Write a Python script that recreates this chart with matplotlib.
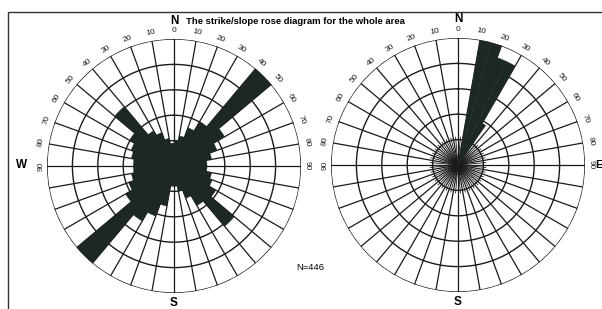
import numpy as np
import matplotlib
matplotlib.use("Agg")
import matplotlib.pyplot as plt
from matplotlib.patches import Rectangle

plt.rcParams['font.family'] = ['Liberation Sans', 'DejaVu Sans']

# ---------------- data ----------------
title = "The strike/slope rose diagram for the whole area"
n_label = "N=446"

# strike rose: 10-degree bins starting at 0 (bearing, clockwise from N)
strike_bins = list(range(0, 360, 10))
strike_len = [0.20, 0.24, 0.32, 0.40, 1.00, 0.46, 0.36, 0.30, 0.26,
              0.26, 0.30, 0.32, 0.38, 0.62, 0.36, 0.27, 0.20, 0.16,
              0.16, 0.32, 0.42, 0.50, 1.00, 0.44, 0.38, 0.34, 0.32,
              0.32, 0.34, 0.36, 0.40, 0.61, 0.32, 0.28, 0.22, 0.18]

# slope rose: 5-degree bins (start bearing, length)
slope_bins = [10, 15, 20, 25, 30]
slope_len = [1.00, 1.00, 0.90, 0.90, 0.38]

tick_labels = ["0", "10", "20", "30", "40", "50", "60", "70", "80", "90"]

# ---------------- figure ----------------
W, H = 602, 309
fig = plt.figure(figsize=(W / 100, H / 100), dpi=100)
fig.patch.set_facecolor("white")

# frame (left and top lines)
fig.add_artist(Rectangle((8 / W, -0.05), 1.2, (H - 12) / H + 0.05,
                         transform=fig.transFigure, fill=False,
                         lw=1.0, ec="#333333"))

BAR = "#1d2824"
GRID = "#1a1a1a"
R_PX = 127


def make_ax(cx, cy):
    ax = fig.add_axes([(cx - R_PX) / W, (H - cy - R_PX) / H,
                       2 * R_PX / W, 2 * R_PX / H], projection="polar")
    ax.set_theta_zero_location("N")
    ax.set_theta_direction(-1)
    ax.set_ylim(0, 1)
    ax.set_axis_off()
    return ax


def draw_grid(ax, fine_center=False):
    t = np.linspace(0, 2 * np.pi, 400)
    for r in [0.2, 0.4, 0.6, 0.8, 1.0]:
        ax.plot(t, np.full_like(t, r), color=GRID, lw=1.0, zorder=3)
    for a in range(0, 360, 10):
        ax.plot([np.radians(a)] * 2, [0, 1.0], color=GRID, lw=0.9, zorder=3)
    if fine_center:
        for a in range(5, 360, 10):
            ax.plot([np.radians(a)] * 2, [0, 0.22], color=GRID, lw=0.6, zorder=3)
    # tick labels
    for i, lab in enumerate(tick_labels):
        a = i * 10
        for side in ([1] if a == 0 else [1, -1]):
            b = side * a
            rr = 1.045 if a == 90 else 1.065
            ax.text(np.radians(b), rr, lab, fontsize=6, color="#222222",
                    rotation=-b, rotation_mode="anchor",
                    ha="center", va="center", clip_on=False, zorder=4)


# left: strike rose
axL = make_ax(174, 166)
draw_grid(axL)
axL.bar(np.radians(strike_bins), strike_len, width=np.radians(10),
        align="edge", color=BAR, edgecolor=BAR, lw=0.3, zorder=5)

# right: slope rose
axR = make_ax(458, 165)
draw_grid(axR, fine_center=True)
axR.bar(np.radians(slope_bins), slope_len, width=np.radians(5),
        align="edge", color=BAR, edgecolor=BAR, lw=0.3, zorder=5)

# compass letters
def ftxt(x, y, s, **kw):
    fig.text(x / W, 1 - y / H, s, ha="center", va="center", **kw)

ftxt(174, 21, "N", fontsize=8.5, fontweight="bold")
ftxt(458, 19, "N", fontsize=8.5, fontweight="bold")
ftxt(174, 303, "S", fontsize=8.5, fontweight="bold")
ftxt(458, 302, "S", fontsize=8.5, fontweight="bold")
ftxt(22, 165, "W", fontsize=8.5, fontweight="bold")
ftxt(598.5, 165, "E", fontsize=8, fontweight="bold")

fig.text(186 / W, 1 - 22 / H, title, ha="left", va="center",
         fontsize=6.8, fontweight="bold")
ftxt(310, 268, n_label, fontsize=6.8)

fig.savefig("out.png", dpi=100, facecolor="white")
